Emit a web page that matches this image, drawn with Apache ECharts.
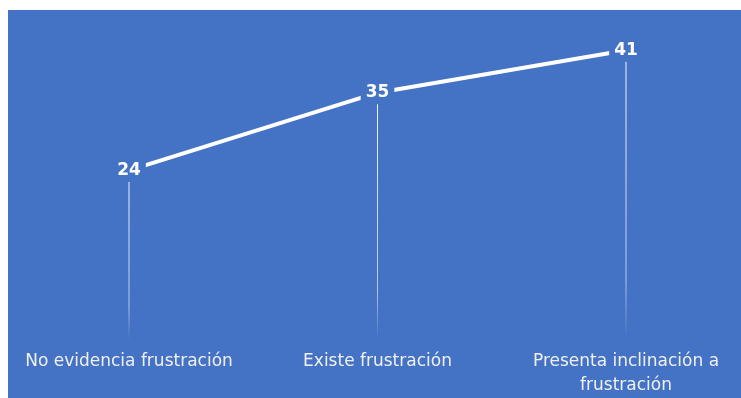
<!DOCTYPE html>
<html>
<head>
<meta charset="utf-8">
<script src="https://cdn.jsdelivr.net/npm/echarts@6/dist/echarts.min.js"></script>
<style>
  html, body { margin: 0; padding: 0; background: #ffffff; }
  #chart { position: absolute; left: 8px; top: 10px; width: 733px; height: 388px; }
</style>
</head>
<body>
<div id="chart"></div>
<script>
// Categories and counts
const categories = ['No evidencia frustración', 'Existe frustración', 'Presenta inclinación a frustración'];
const tickLabels = ['No evidencia frustración', 'Existe frustración', 'Presenta inclinación a\nfrustración'];
const counts = [24, 35, 41];

const BLUE = '#4472C4';
const FONT = '"DejaVu Sans", "Noto Sans", sans-serif';

const chart = echarts.init(document.getElementById('chart'));
chart.setOption({
  backgroundColor: BLUE,
  animation: false,
  grid: { left: 121, right: 115, top: 12, bottom: 58 },
  xAxis: {
    type: 'category',
    data: categories,
    boundaryGap: false,
    axisLine: { show: false },
    axisTick: { show: false },
    splitLine: { show: false },
    axisLabel: {
      interval: 0,
      hideOverlap: false,
      margin: 10,
      color: '#f0f0f0',
      fontFamily: FONT,
      fontSize: 17,
      lineHeight: 24,
      formatter: (v, i) => tickLabels[i]
    }
  },
  yAxis: {
    type: 'value',
    min: 0,
    max: 45,
    show: false
  },
  series: [
    {
      // drop lines from each point to the category axis
      type: 'bar',
      data: counts,
      barWidth: 1,
      silent: true,
      z: 1,
      itemStyle: {
        color: new echarts.graphic.LinearGradient(0, 0, 0, 1, [
          { offset: 0, color: 'rgba(255,255,255,0.95)' },
          { offset: 0.8, color: 'rgba(255,255,255,0.6)' },
          { offset: 1, color: 'rgba(255,255,255,0)' }
        ])
      }
    },
    {
      type: 'line',
      data: counts,
      z: 2,
      symbol: 'circle',
      symbolSize: 1,
      showSymbol: true,
      itemStyle: { color: 'rgba(0,0,0,0)' },
      lineStyle: { color: '#ffffff', width: 4 },
      label: {
        show: true,
        position: 'inside',
        color: '#ffffff',
        fontFamily: FONT,
        fontSize: 17,
        fontWeight: 'bold',
        backgroundColor: BLUE,
        padding: [3, 5, 3, 5]
      }
    }
  ]
});
</script>
</body>
</html>
